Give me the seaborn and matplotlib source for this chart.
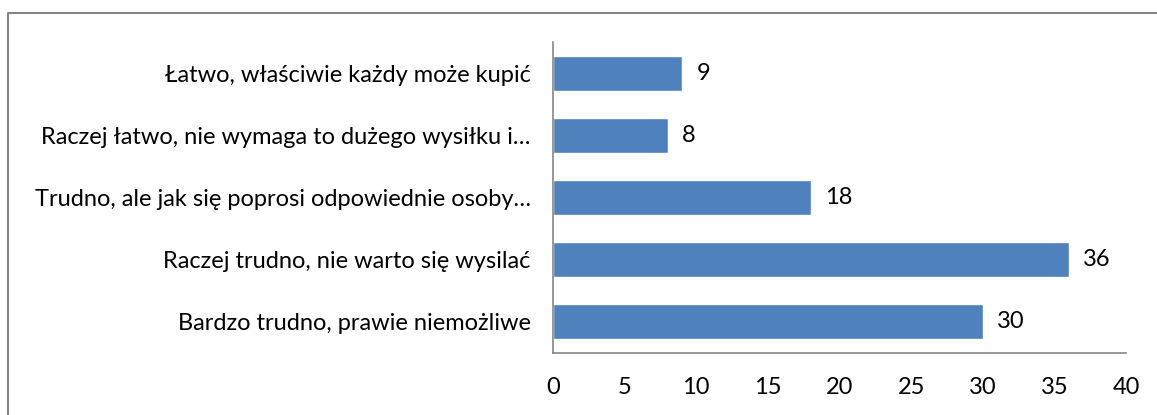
import matplotlib.pyplot as plt
import matplotlib.lines as mlines
import pandas as pd
import seaborn as sns

# data
categories = [
    "Łatwo, właściwie każdy może kupić",
    "Raczej łatwo, nie wymaga to dużego wysiłku i…",
    "Trudno, ale jak się poprosi odpowiednie osoby…",
    "Raczej trudno, nie warto się wysilać",
    "Bardzo trudno, prawie niemożliwe",
]
values = [9, 8, 18, 36, 30]
xticks = [0, 5, 10, 15, 20, 25, 30, 35, 40]

df = pd.DataFrame({"kategoria": categories, "wartosc": values})

sns.set_style("white")
plt.rcParams["font.family"] = ["Lato", "DejaVu Sans"]

fig = plt.figure(figsize=(11.57, 4.15), dpi=100)
ax = fig.add_axes([553 / 1157, 1 - 353 / 415, (1126 - 553) / 1157, (353 - 42) / 415])

sns.barplot(data=df, x="wartosc", y="kategoria", color="#4F81BD",
            saturation=1, width=0.56, ax=ax)

ax.set_xlim(0, 40)
ax.set_xticks(xticks)
ax.set_xlabel("")
ax.set_ylabel("")
ax.tick_params(axis="x", length=0, labelsize=17, pad=17, colors="black")
ax.tick_params(axis="y", length=0, labelsize=17, pad=16, colors="black")

for side in ["top", "right"]:
    ax.spines[side].set_visible(False)
for side in ["left", "bottom"]:
    ax.spines[side].set_color("#868686")
    ax.spines[side].set_linewidth(1.2)

for i, v in enumerate(values):
    ax.text(v + 1.0, i, str(v), va="center", ha="left", fontsize=17, color="black")

# outer chart frame (top and left edges visible)
fig.add_artist(mlines.Line2D([8 / 1157, 8 / 1157, 1], [0, 1 - 13 / 415, 1 - 13 / 415],
                             transform=fig.transFigure, color="#868686", linewidth=1.5))

fig.savefig("out.png", dpi=100)
